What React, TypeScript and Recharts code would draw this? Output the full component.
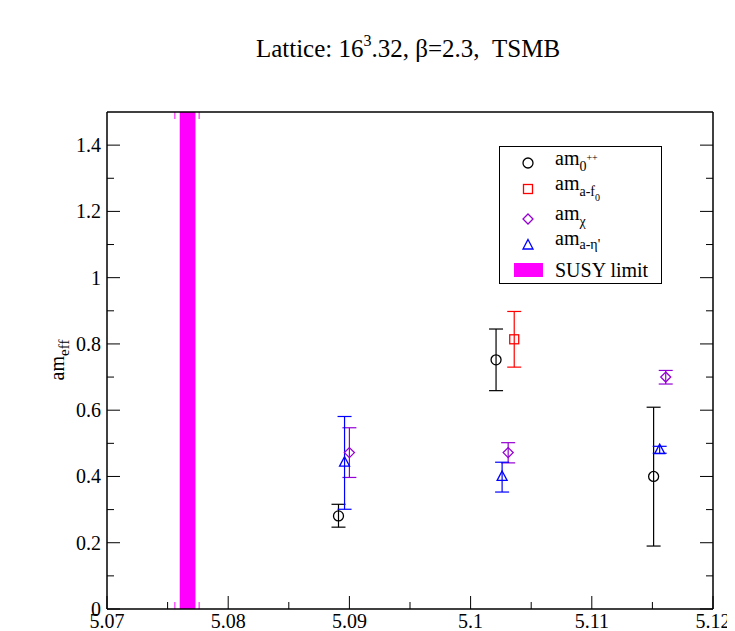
import {
  ScatterChart,
  Scatter,
  XAxis,
  YAxis,
  ErrorBar,
  ReferenceArea,
  ReferenceLine,
  Legend,
} from 'recharts';

const FONT = 'Liberation Serif, Tinos, DejaVu Serif, serif';

// axis ticks
const xMajor = [5.07, 5.08, 5.09, 5.1, 5.11, 5.12];
const xMinor = [5.075, 5.085, 5.095, 5.105, 5.115];
const yMajor = [0, 0.2, 0.4, 0.6, 0.8, 1, 1.2, 1.4];
const yMinor = [0.1, 0.3, 0.5, 0.7, 0.9, 1.1, 1.3];

// am_0++ (black circles)
const glueX = [5.0891, 5.1021, 5.1151];
const glueY = [0.281, 0.752, 0.4];
const glueLo = [0.247, 0.659, 0.19];
const glueHi = [0.316, 0.845, 0.609];

// am_a-f0 (red squares)
const af0X = [5.1036];
const af0Y = [0.814];
const af0Lo = [0.73];
const af0Hi = [0.898];

// am_chi (violet diamonds)
const chiX = [5.09, 5.1031, 5.1161];
const chiY = [0.472, 0.472, 0.7];
const chiLo = [0.397, 0.441, 0.679];
const chiHi = [0.547, 0.502, 0.72];

// am_a-eta' (blue triangles)
const etaX = [5.0896, 5.1026, 5.1156];
const etaY = [0.443, 0.4, 0.481];
const etaLo = [0.301, 0.353, 0.47];
const etaHi = [0.581, 0.443, 0.491];

// SUSY limit band and its small edge marks
const susyBand = [5.076, 5.0773];
const susyMarks = [5.0756, 5.0776];

const rows = (xs: number[], ys: number[], lo: number[], hi: number[]) =>
  xs.map((x, i) => ({ x, y: ys[i], err: [ys[i] - lo[i], hi[i] - ys[i]] }));

const glue = rows(glueX, glueY, glueLo, glueHi);
const af0 = rows(af0X, af0Y, af0Lo, af0Hi);
const chi = rows(chiX, chiY, chiLo, chiHi);
const eta = rows(etaX, etaY, etaLo, etaHi);

const xTicks = [...xMajor, ...xMinor].sort((a, b) => a - b);
const yTicks = [...yMajor, ...yMinor].sort((a, b) => a - b);

const BLACK = '#000000';
const RED = '#ff0000';
const VIOLET = '#9400d3';
const BLUE = '#0000ff';
const MAGENTA = '#ff00ff';

function BottomTick({ x, y, payload }: any) {
  const major = xMajor.includes(payload.value);
  return (
    <g>
      <line x1={x} x2={x} y1={y} y2={y - (major ? 13 : 7)} stroke="#000" />
      {major && (
        <text x={x} y={y + 19} textAnchor="middle" fontSize={20} style={{ fontFamily: FONT }} fill="#000">
          {payload.value}
        </text>
      )}
    </g>
  );
}

function TopTick({ x, y, payload }: any) {
  const major = xMajor.includes(payload.value);
  return <line x1={x} x2={x} y1={y} y2={y + (major ? 13 : 7)} stroke="#000" />;
}

function LeftTick({ x, y, payload }: any) {
  const major = yMajor.includes(payload.value);
  return (
    <g>
      <line x1={x} x2={x + (major ? 13 : 7)} y1={y} y2={y} stroke="#000" />
      {major && (
        <text x={x - 6} y={y + 7} textAnchor="end" fontSize={20} style={{ fontFamily: FONT }} fill="#000">
          {payload.value}
        </text>
      )}
    </g>
  );
}

function RightTick({ x, y, payload }: any) {
  const major = yMajor.includes(payload.value);
  return <line x1={x} x2={x - (major ? 13 : 7)} y1={y} y2={y} stroke="#000" />;
}

const circle = (c: string) => (p: any) => (
  <circle cx={p.cx} cy={p.cy} r={5} fill="none" stroke={c} strokeWidth={1.3} />
);
const square = (c: string) => (p: any) => (
  <rect x={p.cx - 4.5} y={p.cy - 4.5} width={9} height={9} fill="none" stroke={c} strokeWidth={1.3} />
);
const diamond = (c: string) => (p: any) => (
  <polygon
    points={`${p.cx},${p.cy - 5} ${p.cx + 5},${p.cy} ${p.cx},${p.cy + 5} ${p.cx - 5},${p.cy}`}
    fill="none"
    stroke={c}
    strokeWidth={1.3}
  />
);
const triangle = (c: string) => (p: any) => (
  <polygon
    points={`${p.cx},${p.cy - 5.5} ${p.cx + 5},${p.cy + 4} ${p.cx - 5},${p.cy + 4}`}
    fill="none"
    stroke={c}
    strokeWidth={1.3}
  />
);

const BandMarks = (p: any) => {
  const top = Math.min(p.y1, p.y2);
  const bottom = Math.max(p.y1, p.y2);
  return (
    <g>
      <line x1={p.x1} x2={p.x1} y1={top} y2={top + 7} stroke={MAGENTA} />
      <line x1={p.x1} x2={p.x1} y1={bottom} y2={bottom - 7} stroke={MAGENTA} />
    </g>
  );
};

function LegendBox() {
  const t = { style: { fontFamily: FONT }, fontSize: 20, fill: '#000' };
  return (
    <svg width={163} height={138} style={{ display: 'block' }}>
      <rect x={0.5} y={0.5} width={162} height={137} fill="#fff" stroke="#000" />
      {circle(BLACK)({ cx: 29, cy: 17 })}
      <text x={56} y={19} {...t}>
        am
        <tspan fontSize={14} dy={6}>0</tspan>
        <tspan fontSize={10} dy={-10}>++</tspan>
      </text>
      {square(RED)({ cx: 29, cy: 43 })}
      <text x={56} y={44} {...t}>
        am
        <tspan fontSize={14} dy={6}>a-f</tspan>
        <tspan fontSize={10} dy={5}>0</tspan>
      </text>
      {diamond(VIOLET)({ cx: 29, cy: 73 })}
      <text x={56} y={74} {...t}>
        am
        <tspan fontSize={14} dy={6}>χ</tspan>
      </text>
      {triangle(BLUE)({ cx: 29, cy: 99 })}
      <text x={56} y={99} {...t}>
        am
        <tspan fontSize={14} dy={4}>a-η'</tspan>
      </text>
      <rect x={15} y={117} width={29} height={14} fill={MAGENTA} />
      <text x={56} y={131} {...t}>SUSY limit</text>
    </svg>
  );
}

export default function App() {
  const axisLine = { stroke: '#000', strokeWidth: 1.5 };
  return (
    <div style={{ position: 'relative', width: 727, height: 623 }}>
      <ScatterChart width={727} height={623} margin={{ top: 100, right: 18, bottom: 0, left: 39 }}>
        <ReferenceArea
          x1={susyBand[0]}
          x2={susyBand[1]}
          y1={0}
          y2={1.5}
          fill={MAGENTA}
          fillOpacity={1}
          stroke="none"
        />
        {susyMarks.map((v) => (
          <ReferenceLine key={v} x={v} stroke="none" shape={BandMarks} />
        ))}
        <XAxis
          dataKey="x"
          type="number"
          domain={[5.07, 5.12]}
          allowDataOverflow
          ticks={xTicks}
          interval={0}
          tick={BottomTick}
          tickLine={false}
          tickSize={0}
          tickMargin={0}
          axisLine={axisLine}
          height={22}
        />
        <XAxis
          xAxisId="top"
          orientation="top"
          type="number"
          domain={[5.07, 5.12]}
          allowDataOverflow
          ticks={xTicks}
          interval={0}
          tick={TopTick}
          tickLine={false}
          tickSize={0}
          tickMargin={0}
          axisLine={axisLine}
          height={4}
        />
        <YAxis
          dataKey="y"
          type="number"
          domain={[0, 1.5]}
          allowDataOverflow
          ticks={yTicks}
          interval={0}
          tick={LeftTick}
          tickLine={false}
          tickSize={0}
          tickMargin={0}
          axisLine={axisLine}
          width={60}
        />
        <YAxis
          yAxisId="right"
          orientation="right"
          type="number"
          domain={[0, 1.5]}
          allowDataOverflow
          ticks={yTicks}
          interval={0}
          tick={RightTick}
          tickLine={false}
          tickSize={0}
          tickMargin={0}
          axisLine={axisLine}
          width={4}
        />
        <Scatter data={glue} shape={circle(BLACK)} isAnimationActive={false}>
          <ErrorBar dataKey="err" direction="y" width={7} stroke={BLACK} strokeWidth={1.2} isAnimationActive={false} />
        </Scatter>
        <Scatter data={af0} shape={square(RED)} isAnimationActive={false}>
          <ErrorBar dataKey="err" direction="y" width={7} stroke={RED} strokeWidth={1.2} isAnimationActive={false} />
        </Scatter>
        <Scatter data={chi} shape={diamond(VIOLET)} isAnimationActive={false}>
          <ErrorBar dataKey="err" direction="y" width={7} stroke={VIOLET} strokeWidth={1.2} isAnimationActive={false} />
        </Scatter>
        <Scatter data={eta} shape={triangle(BLUE)} isAnimationActive={false}>
          <ErrorBar dataKey="err" direction="y" width={7} stroke={BLUE} strokeWidth={1.2} isAnimationActive={false} />
        </Scatter>
        <Legend
          layout="vertical"
          align="center"
          verticalAlign="middle"
          content={() => <LegendBox />}
          wrapperStyle={{ left: 491, top: 138, width: 163, height: 138 }}
        />
      </ScatterChart>
      <svg
        width={727}
        height={623}
        style={{ position: 'absolute', left: 0, top: 0, pointerEvents: 'none' }}
      >
        <text
          x={400}
          y={49}
          textAnchor="middle"
          fontSize={25}
          fill="#000"
          style={{ whiteSpace: 'pre', fontFamily: FONT }}
        >
          Lattice: 16
          <tspan fontSize={16} dy={-11}>3</tspan>
          <tspan dy={11}>.32, β=2.3,  TSMB</tspan>
        </text>
        <text
          transform="translate(56,352) rotate(-90)"
          textAnchor="middle"
          fontSize={20}
          fill="#000"
          style={{ fontFamily: FONT }}
        >
          am
          <tspan fontSize={15} dy={5}>eff</tspan>
        </text>
      </svg>
    </div>
  );
}
